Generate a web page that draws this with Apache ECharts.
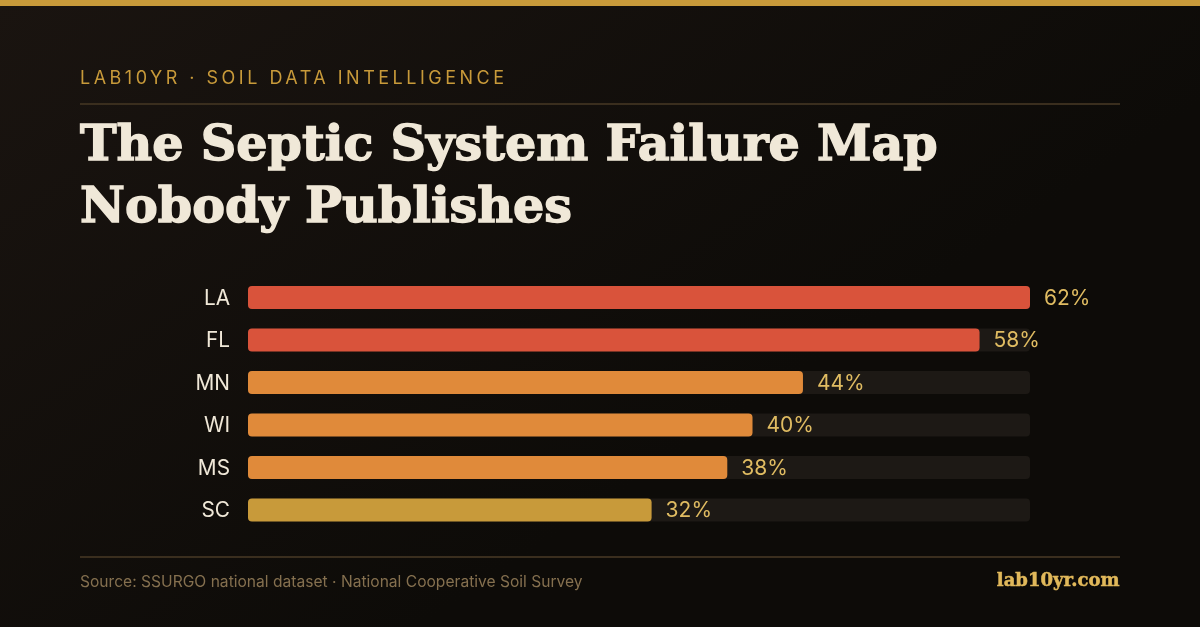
<!DOCTYPE html>
<html>
<head>
<meta charset="utf-8">
<style>
  html, body { margin: 0; padding: 0; background: #0d0b08; }
  #wrap { position: relative; width: 1200px; height: 627px; overflow: hidden; }
  #main { width: 1200px; height: 627px; }
  #kicker {
    position: absolute; left: 80px; top: 67px;
    font: 400 18px/22px Inter, sans-serif; letter-spacing: 3.5px; color: #c89a3a; white-space: nowrap;
  }
</style>
<script src="https://cdn.jsdelivr.net/npm/echarts@6/dist/echarts.min.js"></script>
</head>
<body>
<div id="wrap">
  <div id="main"></div>
  <div id="kicker">LAB10YR · SOIL DATA INTELLIGENCE</div>
</div>
<script>
const states = ['LA', 'FL', 'MN', 'WI', 'MS', 'SC'];
const failureRates = [62, 58, 44, 40, 38, 32];
const barColors = ['#d9533b', '#d9533b', '#e08a3a', '#e08a3a', '#e08a3a', '#c89a3a'];
const titleText = 'The Septic System Failure Map\nNobody Publishes';
const sourceText = 'Source: SSURGO national dataset · National Cooperative Soil Survey';
const siteText = 'lab10yr.com';

const serif = '"DejaVu Serif", serif';
const sans = 'Inter, sans-serif';

const chart = echarts.init(document.getElementById('main'), null, { renderer: 'canvas' });

const option = {
  animation: false,
  backgroundColor: new echarts.graphic.LinearGradient(0, 0, 0.35, 1, [
    { offset: 0, color: '#1a1410' },
    { offset: 1, color: '#0d0b08' }
  ]),
  title: [
    {
      text: titleText,
      left: 80,
      top: 116,
      padding: 0,
      textStyle: {
        fontFamily: serif, fontSize: 49.2, fontWeight: 'bold', lineHeight: 62,
        color: '#f0e8d8', textBorderColor: '#f0e8d8', textBorderWidth: 1.4
      }
    },
    {
      text: sourceText,
      left: 80,
      top: 574,
      padding: 0,
      textStyle: { fontFamily: sans, fontSize: 15.6, fontWeight: 'normal', color: '#85704f' }
    },
    {
      text: siteText,
      right: 80,
      top: 572,
      padding: 0,
      textStyle: {
        fontFamily: serif, fontSize: 18, fontWeight: 'bold', color: '#e0b85a',
        textBorderColor: '#e0b85a', textBorderWidth: 0.5
      }
    }
  ],
  grid: { left: 248, right: 170, top: 276.25, height: 255, containLabel: false },
  xAxis: { type: 'value', min: 0, max: 62, show: false },
  yAxis: {
    type: 'category',
    inverse: true,
    data: states,
    axisLine: { show: false },
    axisTick: { show: false },
    axisLabel: {
      margin: 18,
      formatter: '{s|{value}}',
      rich: { s: { padding: [2, 0, 0, 0], fontFamily: sans, fontSize: 20.8, color: '#f0e8d8' } }
    }
  },
  series: [
    {
      type: 'bar',
      data: failureRates.map((v, i) => ({ value: v, itemStyle: { color: barColors[i] } })),
      barWidth: 23,
      showBackground: true,
      backgroundStyle: { color: '#1d1915', borderRadius: 4 },
      itemStyle: { borderRadius: 4 },
      label: {
        show: true,
        position: 'right',
        distance: 14,
        offset: [0, 1],
        formatter: '{c}%',
        fontFamily: sans,
        fontSize: 21,
        color: '#e0bc62'
      }
    }
  ],
  graphic: [
    { type: 'rect', shape: { x: 0, y: 0, width: 1200, height: 6 }, style: { fill: '#c89a3a' }, silent: true },
    { type: 'rect', shape: { x: 80, y: 103, width: 1040, height: 2 }, style: { fill: '#3a2e1e' }, silent: true },
    { type: 'rect', shape: { x: 80, y: 556, width: 1040, height: 2 }, style: { fill: '#3a2e1e' }, silent: true }
  ]
};

chart.setOption(option);
</script>
</body>
</html>
